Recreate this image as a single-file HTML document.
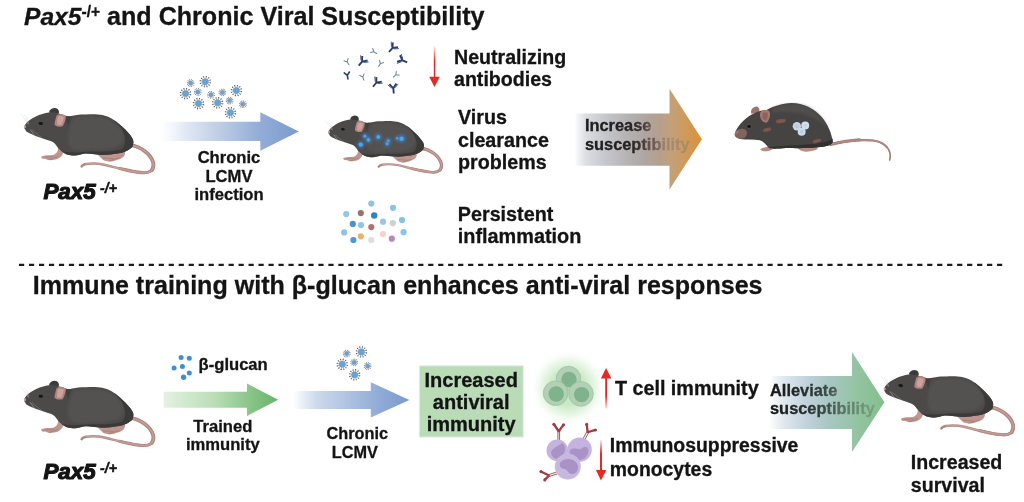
<!DOCTYPE html>
<html><head><meta charset="utf-8">
<style>
html,body{margin:0;padding:0;background:#fff;}
body{width:1024px;height:502px;overflow:hidden;font-family:"Liberation Sans",sans-serif;}
svg{display:block;will-change:transform;}
text{font-family:"Liberation Sans",sans-serif;font-weight:bold;fill:#141414;stroke:#141414;stroke-width:0.3px;}
text.ns{stroke:none}
.it{font-style:italic}
</style></head><body>
<svg width="1024" height="502" viewBox="0 0 1024 502">
<defs>
<filter id="blur6" x="-20%" y="-20%" width="140%" height="140%"><feGaussianBlur stdDeviation="7"/></filter><filter id="blur1" x="-50%" y="-50%" width="200%" height="200%"><feGaussianBlur stdDeviation="0.8"/></filter>
<filter id="blur2" x="-30%" y="-30%" width="160%" height="160%"><feGaussianBlur stdDeviation="2.2"/></filter>
<!--GRADS-->
<linearGradient id="gBlue" x1="0" x2="1" y1="0" y2="0"><stop offset="0" stop-color="#ffffff"/><stop offset="0.1" stop-color="#f0f4fa"/><stop offset="0.19" stop-color="#dfe7f3"/><stop offset="0.46" stop-color="#b9c9e3"/><stop offset="0.71" stop-color="#93add7"/><stop offset="1" stop-color="#7a9bce"/></linearGradient>
<linearGradient id="gBlue2" x1="0" x2="1" y1="0" y2="0"><stop offset="0" stop-color="#ffffff"/><stop offset="0.08" stop-color="#e9eef7"/><stop offset="0.2" stop-color="#cdd9ec"/><stop offset="0.5" stop-color="#abc0e0"/><stop offset="0.75" stop-color="#8faad6"/><stop offset="1" stop-color="#7a9bce"/></linearGradient>
<linearGradient id="gGreen" x1="0" x2="1" y1="0" y2="0"><stop offset="0" stop-color="#e3f2e0"/><stop offset="0.45" stop-color="#b9ddb6"/><stop offset="0.8" stop-color="#82c182"/><stop offset="1" stop-color="#69b56b"/></linearGradient>
<linearGradient id="gOrange" x1="0" x2="1" y1="0" y2="0"><stop offset="0" stop-color="#fdfdfe"/><stop offset="0.03" stop-color="#f0f1f4"/><stop offset="0.086" stop-color="#dcdee3"/><stop offset="0.25" stop-color="#c4c5cb"/><stop offset="0.415" stop-color="#b5b2b3"/><stop offset="0.547" stop-color="#aea6a3"/><stop offset="0.66" stop-color="#b5a08c"/><stop offset="0.76" stop-color="#c4a078"/><stop offset="0.88" stop-color="#cf9a57"/><stop offset="1" stop-color="#de9038"/></linearGradient>
<linearGradient id="gAllev" x1="0" x2="1" y1="0" y2="0"><stop offset="0" stop-color="#ffffff"/><stop offset="0.12" stop-color="#e2e9f0"/><stop offset="0.32" stop-color="#c2d2dc"/><stop offset="0.52" stop-color="#a9c6c4"/><stop offset="0.74" stop-color="#96c4a5"/><stop offset="1" stop-color="#82bf8b"/></linearGradient>
<linearGradient id="gTxtO" gradientUnits="userSpaceOnUse" x1="584" x2="692" y1="0" y2="0"><stop offset="0" stop-color="#1e1e1e"/><stop offset="0.42" stop-color="#262222"/><stop offset="0.53" stop-color="#3e3231"/><stop offset="0.6" stop-color="#625350"/><stop offset="0.67" stop-color="#735e57"/><stop offset="0.73" stop-color="#93806f"/><stop offset="0.8" stop-color="#a48b6f"/><stop offset="1" stop-color="#ad8c62"/></linearGradient>
<linearGradient id="gTxtG" gradientUnits="userSpaceOnUse" x1="770" x2="875" y1="0" y2="0"><stop offset="0" stop-color="#151515"/><stop offset="0.45" stop-color="#2f3a38"/><stop offset="0.75" stop-color="#5f7f6c"/><stop offset="1" stop-color="#7aa583"/></linearGradient>
<linearGradient id="gRedUp" x1="0" x2="0" y1="0" y2="1"><stop offset="0" stop-color="#e32b23"/><stop offset="0.6" stop-color="#e32b23"/><stop offset="1" stop-color="#e32b23" stop-opacity="0.15"/></linearGradient>
<linearGradient id="gRedDn" x1="0" x2="0" y1="0" y2="1"><stop offset="0" stop-color="#e32b23" stop-opacity="0.1"/><stop offset="0.45" stop-color="#e32b23"/><stop offset="1" stop-color="#e32b23"/></linearGradient>
<radialGradient id="gGlow"><stop offset="0" stop-color="#bfe5bd"/><stop offset="0.5" stop-color="#c9e9c6" stop-opacity="0.95"/><stop offset="0.75" stop-color="#d9f0d6" stop-opacity="0.6"/><stop offset="1" stop-color="#eaf7e8" stop-opacity="0"/></radialGradient>
<symbol id="mouse" viewBox="0 0 683 502" overflow="visible">
  <!-- tail -->
  <path d="M526,222 C566,228 606,256 616,293 C620,324 600,334 572,332 C520,328 470,312 419,300 C395,295 368,294 346,297 C336,299 330,303 328,307" fill="none" stroke="#b08780" stroke-width="10" stroke-linecap="round"/>
  <path d="M526,222 C566,228 606,256 616,293 C620,324 600,334 572,332 C540,330 510,322 480,315" fill="none" stroke="#b08780" stroke-width="12.5" stroke-linecap="round"/>
  <path d="M524,221 C566,228 606,256 616,293 C618,306 616,314 610,322" fill="none" stroke="#b08780" stroke-width="15" stroke-linecap="round"/>
  <path d="M526,222 C566,228 606,256 616,293 C620,324 600,334 572,332 C520,328 470,312 419,300 C395,295 368,294 346,297" fill="none" stroke="#c6a19a" stroke-width="5" stroke-linecap="round"/>
  <!-- rear foot -->
  <path d="M390,256 C398,266 404,272 410,276 C414,284 430,288 446,287 C458,286 466,282 472,280 C484,278 494,272 498,266 C502,260 504,254 502,248 L440,250 Z" fill="#c0958e"/>
  <path d="M412,274 C426,272 440,276 456,276 M436,286 C450,280 464,278 480,272" stroke="#9e746e" stroke-width="2.5" fill="none"/>
  <!-- front leg/foot -->
  <path d="M232,230 C236,246 226,256 214,261 C198,262 178,262 166,267 C164,274 170,278 182,276 C190,282 204,283 216,280 C226,280 236,276 244,268 C252,260 256,250 256,240 Z" fill="#c0958e"/>
  <path d="M176,270 C190,268 204,270 216,268 M196,280 C208,276 222,274 234,266" stroke="#9e746e" stroke-width="2.5" fill="none"/>
  <!-- back ear -->
  <path d="M197,90 C198,80 206,74 218,72 C230,72 236,78 237,88 C236,94 234,98 230,100 Z" fill="#3d3c3b"/>
  <!-- body -->
  <path d="M97,147 C102,134 112,124 124,117 C140,106 156,100 170,96 C180,93 188,91 196,90 C212,88 228,92 246,97 C254,100 262,103 270,105 C284,106 294,102 304,101 C320,98 336,98 349,98 C364,97 380,97 393,98 C406,99 416,101 425,104 C438,108 448,114 457,120 C470,128 480,137 489,146 C500,155 508,164 515,172 C523,180 529,189 533,197 C536,204 537,211 535,216 C535,221 534,226 531,229 C527,233 523,236 518,239 C513,243 508,246 502,248 C492,252 482,254 470,255 C452,258 436,260 419,261 C406,261 394,259 380,258 C368,257 354,255 342,255 C332,256 324,260 316,261 C308,263 300,264 291,263 C282,262 272,261 265,258 C258,254 251,250 246,245 C241,241 237,237 233,232 C230,228 227,224 224,220 C220,215 214,209 206,206 C196,202 184,198 172,194.5 C158,190 145,185 133,180.5 C123,176 114,172 108,168 C104,165 102,162 101,158 C98,155 96,151 97,147 Z" fill="#4c4a49"/>
  <!-- lighter mid body -->
  <path d="M300,112 C340,104 390,104 430,116 C462,128 484,150 494,176 C500,196 492,214 470,226 C440,238 400,240 360,240 C330,242 304,244 288,236 C276,226 272,206 274,186 C276,160 284,130 300,112 Z" fill="#565453" opacity="0.8" filter="url(#blur6)"/>
  <!-- darker rump -->
  <path d="M457,120 C470,128 480,137 489,146 C500,155 508,164 515,172 C523,180 529,189 533,197 C536,204 537,211 535,216 C535,221 534,226 531,229 C527,233 523,236 518,239 C508,246 492,252 470,255 C486,246 498,232 502,214 C506,190 496,160 476,140 C468,132 462,126 457,120 Z" fill="#3c3a39"/>
  <!-- darker belly -->
  <path d="M246,245 C262,250 290,252 316,250 C350,246 400,248 440,246 C470,244 500,236 520,226 C526,224 530,226 531,229 C527,233 523,236 518,239 C508,246 492,252 470,255 C452,258 436,260 419,261 C394,260 368,256 342,255 C324,258 308,264 291,263 C272,262 258,254 246,245 Z" fill="#3c3a39"/>
  <!-- neck shadow -->
  <path d="M262,104 C270,106 280,106 288,104 C282,116 278,130 276,146 C270,134 266,118 262,104 Z" fill="#3f3d3c" opacity="0.8"/>
  <!-- front ear -->
  <path d="M228,101 C234,97 240,96 246,96 C254,97 260,100 264,104 C265,112 263,120 260,127 C258,134 255,141 251,146 C244,148 236,148 228,146 C224,144 221,142 219,139 C219,131 221,124 223,117 C224,111 226,106 228,101 Z" fill="#b3857f"/>
  <path d="M234,106 C240,103 250,104 256,108 C256,118 252,130 246,140 C240,141 234,140 230,138 C228,128 230,116 234,106 Z" fill="#c9a39d"/>
  <!-- eye -->
  <ellipse cx="164" cy="134.5" rx="9" ry="6" fill="#171717" transform="rotate(8 164 134.5)"/>
  <!-- nose -->
  <ellipse cx="100" cy="148" rx="4.5" ry="6" fill="#c9a09a"/>
  <!-- whiskers -->
  <path d="M112,138 L86,96 M114,136 L98,100 M116,140 L108,108 M122,160 L152,200 M128,160 L172,196 M120,156 L140,186" stroke="#c4c4c4" stroke-width="1.4" fill="none" opacity="0.75"/>
</symbol>
<symbol id="sick" viewBox="0 0 904 502" overflow="visible">
  <!-- tail -->
  <path d="M556,322 C620,308 700,297 770,304 C830,314 866,350 852,402" fill="none" stroke="#a47c74" stroke-width="8" stroke-linecap="round"/>
  <path d="M556,322 C620,308 700,297 770,304 C800,308 824,320 840,340" fill="none" stroke="#a47c74" stroke-width="10.5" stroke-linecap="round"/>
  <path d="M554,324 C600,312 650,304 700,300" fill="none" stroke="#a47c74" stroke-width="15" stroke-linecap="round"/>
  <path d="M556,322 C620,308 700,297 770,304 C800,308 826,322 842,344" fill="none" stroke="#b8938b" stroke-width="4.5" stroke-linecap="round"/>
  <!-- feet -->
  <path d="M386,336 C396,352 412,358 430,360 C450,360 470,354 484,350 C490,346 492,340 490,332 Z" fill="#b88d85"/>
  <path d="M202,348 C208,358 226,360 244,356 C254,354 262,350 266,344 L262,330 C240,336 214,338 202,348 Z" fill="#b88d85"/>
  <!-- back ear -->
  <path d="M158,170 C150,152 164,134 184,133 C198,136 202,152 194,166 Z" fill="#a0746c"/>
  <!-- body -->
  <path d="M74,270 C80,248 96,226 116,206 C136,186 160,170 186,160 C204,154 220,152 234,150 C262,134 310,117 360,115 C420,117 470,140 510,184 C540,220 562,266 566,312 C560,328 530,334 490,338 C440,344 380,342 330,342 C300,344 264,348 246,342 C234,328 220,308 200,302 C170,298 130,302 102,296 C84,292 72,284 74,270 Z" fill="#454443"/>
  <path d="M262,142 C310,122 380,116 430,132 C480,152 520,196 540,240 C500,204 450,176 400,166 C350,158 300,160 262,164 Z" fill="#525150" opacity="0.8" filter="url(#blur6)"/>
  <path d="M246,338 C300,328 400,328 480,320 C520,316 548,306 566,294 L566,312 C560,328 530,334 490,338 C440,344 380,342 330,342 C300,344 264,348 246,342 Z" fill="#313130"/>
  <!-- snout -->
  <path d="M76,264 C88,246 112,240 128,250 C140,264 136,284 120,292 C100,296 82,292 74,278 Z" fill="#85645d" filter="url(#blur2)"/>
  <!-- brown patches -->
  <ellipse cx="306" cy="206" rx="25" ry="10" fill="#80594f" transform="rotate(-8 306 206)" filter="url(#blur2)"/>
  <ellipse cx="236" cy="250" rx="21" ry="9" fill="#80594f" transform="rotate(-12 236 250)" filter="url(#blur2)"/>
  <ellipse cx="486" cy="306" rx="21" ry="8" fill="#80594f" transform="rotate(-15 486 306)" filter="url(#blur2)"/>
  <!-- front ear -->
  <path d="M204,160 C216,146 240,146 250,160 C254,178 248,200 234,214 C218,214 206,202 202,186 C200,176 200,168 204,160 Z" fill="#a67970"/>
  <path d="M214,168 C222,160 236,160 240,170 C242,184 238,196 230,204 C220,202 214,194 212,186 Z" fill="#8e635b"/>
  <!-- eye -->
  <ellipse cx="146" cy="234" rx="13" ry="11" fill="#5a5554" opacity="0.8"/>
  <ellipse cx="146" cy="234" rx="9.5" ry="7.5" fill="#111"/>
  <!-- light lumps -->
  <circle cx="386" cy="232" r="21" fill="#c6d6e6"/>
  <circle cx="428" cy="228" r="20" fill="#d3e0ec"/>
  <circle cx="410" cy="260" r="20" fill="#cbdbe9"/>
  <circle cx="386" cy="232" r="10" fill="#b3c7dc" opacity="0.7"/>
  <circle cx="428" cy="228" r="9" fill="#bccfe1" opacity="0.7"/>
  <circle cx="410" cy="260" r="9" fill="#b3c7dc" opacity="0.7"/>
  <path d="M92,258 L66,254 M92,264 L68,272" stroke="#c8c8c8" stroke-width="1.6" fill="none"/>
</symbol>
<symbol id="virL" viewBox="-10 -10 20 20" overflow="visible">
  <path d="M2.74,0.56 L5.10,1.03 M2.10,1.85 L3.90,3.44 M0.89,2.65 L1.65,4.93 M-0.56,2.74 L-1.03,5.10 M-1.85,2.10 L-3.44,3.90 M-2.65,0.89 L-4.93,1.65 M-2.74,-0.56 L-5.10,-1.03 M-2.10,-1.85 L-3.90,-3.44 M-0.89,-2.65 L-1.65,-4.93 M0.56,-2.74 L1.03,-5.10 M1.85,-2.10 L3.44,-3.90 M2.65,-0.89 L4.93,-1.65" stroke="#6b6f78" stroke-width="0.6" fill="none"/>
  <g fill="#4c5058"><circle cx="5.10" cy="1.03" r="0.6"/><circle cx="3.90" cy="3.44" r="0.6"/><circle cx="1.65" cy="4.93" r="0.6"/><circle cx="-1.03" cy="5.10" r="0.6"/><circle cx="-3.44" cy="3.90" r="0.6"/><circle cx="-4.93" cy="1.65" r="0.6"/><circle cx="-5.10" cy="-1.03" r="0.6"/><circle cx="-3.90" cy="-3.44" r="0.6"/><circle cx="-1.65" cy="-4.93" r="0.6"/><circle cx="1.03" cy="-5.10" r="0.6"/><circle cx="3.44" cy="-3.90" r="0.6"/><circle cx="4.93" cy="-1.65" r="0.6"/></g>
  <circle r="3.25" fill="#8598ad"/>
  <circle r="2.8" fill="#62a4dc"/>
</symbol>
<symbol id="virS" viewBox="-10 -10 20 20" overflow="visible">
  <path d="M1.76,0.36 L3.43,0.70 M1.35,1.19 L2.62,2.32 M0.57,1.71 L1.11,3.32 M-0.36,1.76 L-0.70,3.43 M-1.19,1.35 L-2.32,2.62 M-1.71,0.57 L-3.32,1.11 M-1.76,-0.36 L-3.43,-0.70 M-1.35,-1.19 L-2.62,-2.32 M-0.57,-1.71 L-1.11,-3.32 M0.36,-1.76 L0.70,-3.43 M1.19,-1.35 L2.32,-2.62 M1.71,-0.57 L3.32,-1.11" stroke="#6b6f78" stroke-width="0.5" fill="none"/>
  <g fill="#4c5058"><circle cx="3.43" cy="0.70" r="0.45"/><circle cx="2.62" cy="2.32" r="0.45"/><circle cx="1.11" cy="3.32" r="0.45"/><circle cx="-0.70" cy="3.43" r="0.45"/><circle cx="-2.32" cy="2.62" r="0.45"/><circle cx="-3.32" cy="1.11" r="0.45"/><circle cx="-3.43" cy="-0.70" r="0.45"/><circle cx="-2.62" cy="-2.32" r="0.45"/><circle cx="-1.11" cy="-3.32" r="0.45"/><circle cx="0.70" cy="-3.43" r="0.45"/><circle cx="2.32" cy="-2.62" r="0.45"/><circle cx="3.32" cy="-1.11" r="0.45"/></g>
  <circle r="2.25" fill="#8598ad"/>
  <circle r="1.8" fill="#62a4dc"/>
</symbol>
<symbol id="abL" viewBox="-10 -10 20 20" overflow="visible">
  <path d="M0,5.4 L0,0.2 M0,0.2 L-3.5,-4.2 M0,0.2 L3.5,-4.2" stroke="#2b3f6c" stroke-width="1.9" stroke-linecap="butt" fill="none"/>
  <path d="M-1.9,-0.4 L-4.9,-3.4 M1.9,-0.4 L4.9,-3.4" stroke="#3a5486" stroke-width="0.9" stroke-linecap="round" fill="none"/>
</symbol>
<symbol id="abS" viewBox="-10 -10 20 20" overflow="visible">
  <path d="M0,3.2 L0,0 M0,0 L-2.3,-2.6 M0,0 L2.3,-2.6" stroke="#6f8aa6" stroke-width="1.1" stroke-linecap="round" fill="none"/>
</symbol>
<symbol id="abM" viewBox="-10 -10 20 20" overflow="visible">
  <path d="M0,3.6 L0,0 M0,0 L-2.6,-3 M0,0 L2.6,-3" stroke="#2b3f6c" stroke-width="1.6" stroke-linecap="round" fill="none"/>
</symbol>

</defs>
<!-- ===== TOP TITLE ===== -->
<text x="24" y="25" font-size="25.1"><tspan class="it" font-size="24.6">Pax5</tspan><tspan font-size="15.6" dy="-8.5">-/+</tspan><tspan dy="8.5"> and Chronic Viral Susceptibility</tspan></text>

<!-- ===== TOP ROW ===== -->
<use href="#mouse" x="0" y="90" width="170" height="125"/>
<text x="43.4" y="199.3" font-size="22.4" class="it" style="stroke-width:1.15px;stroke-linejoin:round">Pax5<tspan font-size="14" dy="-6.3" dx="0.5" style="stroke-width:0.5px"> -/+</tspan></text>

<!-- blue arrow top -->
<path d="M161,121.7 L260.3,121.7 L260.3,112.3 L298.8,131.4 L260.3,150.8 L260.3,140.9 L161,140.9 Z" fill="url(#gBlue)"/>
<g id="virTop">
<use href="#virS" x="180.6" y="73.1" width="20" height="20"/>
<use href="#virL" x="195.3" y="71.7" width="20" height="20"/>
<use href="#virL" x="175.6" y="83.6" width="20" height="20"/>
<use href="#virS" x="187.8" y="81.9" width="20" height="20"/>
<use href="#virS" x="201" y="84.8" width="20" height="20"/>
<use href="#virS" x="212.4" y="82.4" width="20" height="20"/>
<use href="#virL" x="226.4" y="80.6" width="20" height="20"/>
<use href="#virL" x="188.5" y="93.6" width="20" height="20"/>
<use href="#virL" x="207.7" y="92.8" width="20" height="20"/>
<use href="#virS" x="219.6" y="90.6" width="20" height="20"/>
<use href="#virS" x="232.8" y="94.3" width="20" height="20"/>
<use href="#virL" x="220.4" y="102.8" width="20" height="20"/>
</g>
<text x="229" y="163.1" font-size="16.6" text-anchor="middle">Chronic</text>
<text x="229" y="181.6" font-size="16.6" text-anchor="middle">LCMV</text>
<text x="229" y="200.1" font-size="16.6" text-anchor="middle">infection</text>

<!-- antibodies -->
<g id="abs">
<use href="#abS" x="337.3" y="51.9" width="20" height="20" transform="rotate(-30 347.3 61.9)"/>
<use href="#abL" x="352.2" y="51.5" width="20" height="20" transform="rotate(40 362.2 61.5)"/>
<use href="#abS" x="363.8" y="41.8" width="20" height="20" transform="rotate(-60 373.8 51.8)"/>
<use href="#abL" x="382.6" y="37.9" width="20" height="20" transform="rotate(42 392.6 47.9)"/>
<use href="#abL" x="392.3" y="50.2" width="20" height="20" transform="rotate(-65 402.3 60.2)"/>
<use href="#abS" x="370.3" y="53.7" width="20" height="20" transform="rotate(30 380.3 63.7)"/>
<use href="#abM" x="337.3" y="65.4" width="20" height="20" transform="rotate(-10 347.3 75.4)"/>
<use href="#abS" x="352.8" y="67.1" width="20" height="20" transform="rotate(-20 362.8 77.1)"/>
<use href="#abL" x="366.4" y="72.6" width="20" height="20" transform="rotate(40 376.4 82.6)"/>
<use href="#abS" x="385.8" y="64.9" width="20" height="20" transform="rotate(50 395.8 74.9)"/>
<use href="#abL" x="383.3" y="78.1" width="20" height="20" transform="rotate(-5 393.3 88.1)"/>
</g>
<!-- red down arrow -->
<rect x="433.8" y="46" width="1.5" height="32" fill="url(#gRedDn)"/>
<path d="M429.2,76.8 L439.8,76.8 L434.5,87 Z" fill="#e32b23"/>

<text x="454" y="63.9" font-size="19.6">Neutralizing</text>
<text x="454" y="86.1" font-size="19.6">antibodies</text>
<text x="458" y="124.3" font-size="19.7">Virus</text>
<text x="458" y="146.8" font-size="19.7">clearance</text>
<text x="458" y="168.9" font-size="19.7">problems</text>
<text x="457.8" y="220.8" font-size="19.75">Persistent</text>
<text x="457.8" y="242.7" font-size="19.85">inflammation</text>

<!-- infected mouse -->
<use href="#mouse" x="307.2" y="99.9" width="148.75" height="109.4"/>
<g id="spots" fill="#4aa3ee">
<circle cx="364.9" cy="136.2" r="3.4" fill="#3e86cf" opacity="0.5" filter="url(#blur1)"/><circle cx="364.9" cy="136.2" r="1.6"/>
<circle cx="368.4" cy="139.9" r="3.6" fill="#3e86cf" opacity="0.5" filter="url(#blur1)"/><circle cx="368.4" cy="139.9" r="1.8"/>
<circle cx="360.8" cy="144.6" r="4.2" fill="#3e86cf" opacity="0.5" filter="url(#blur1)"/><circle cx="360.8" cy="144.6" r="2.2"/>
<circle cx="378.3" cy="137" r="3.8" fill="#3e86cf" opacity="0.5" filter="url(#blur1)"/><circle cx="378.3" cy="137" r="1.9"/>
<circle cx="388.3" cy="140.7" r="3.2" fill="#3e86cf" opacity="0.5" filter="url(#blur1)"/><circle cx="388.3" cy="140.7" r="1.5"/>
<circle cx="387.1" cy="143.8" r="3.2" fill="#3e86cf" opacity="0.5" filter="url(#blur1)"/><circle cx="387.1" cy="143.8" r="1.5"/>
<circle cx="397.1" cy="138.3" r="2.6" fill="#3e86cf" opacity="0.5" filter="url(#blur1)"/><circle cx="397.1" cy="138.3" r="1.2"/>
<circle cx="401.6" cy="138.7" r="4.4" fill="#3e86cf" opacity="0.5" filter="url(#blur1)"/><circle cx="401.6" cy="138.7" r="2.3"/>
</g>

<!-- inflammation dots -->
<g id="dots">
<circle cx="371.3" cy="203.6" r="3.1" fill="#8ec3e6"/>
<circle cx="393" cy="207.8" r="3.1" fill="#8ec3e6"/>
<circle cx="346.2" cy="214.1" r="3.1" fill="#93c6e8"/>
<circle cx="360.8" cy="213.1" r="3.1" fill="#9a716b"/>
<circle cx="374.2" cy="215.5" r="3.2" fill="#2f84c6"/>
<circle cx="402" cy="220" r="3.1" fill="#86c0e6"/>
<circle cx="383" cy="221.7" r="3.1" fill="#9bc5ea"/>
<circle cx="392.8" cy="223.1" r="3.1" fill="#cfd0d2"/>
<circle cx="352.8" cy="223.9" r="3.1" fill="#4e8fd2"/>
<circle cx="361" cy="225.1" r="3.1" fill="#90c4e8"/>
<circle cx="371.3" cy="227.1" r="3.1" fill="#b3716c"/>
<circle cx="344.2" cy="232.4" r="3.1" fill="#8ec3e6"/>
<circle cx="403.6" cy="232.2" r="3.1" fill="#8ec3e6"/>
<circle cx="383" cy="234.1" r="3.1" fill="#f7d3c7"/>
<circle cx="360.8" cy="236.3" r="3.1" fill="#e8b36c"/>
<circle cx="391.8" cy="238.7" r="3.1" fill="#b58ab8"/>
<circle cx="353.4" cy="240" r="3.1" fill="#4e98da"/>
<circle cx="371.3" cy="240" r="3.1" fill="#e2dbe6"/>
</g>

<!-- orange arrow -->
<path d="M575,113.5 L669.5,113.5 L669.5,88.7 L701.9,139.2 L669.5,189.5 L669.5,165.8 L575,165.8 Z" fill="url(#gOrange)"/>
<text x="584.9" y="131" font-size="16.4" style="fill:url(#gTxtO);stroke:url(#gTxtO);stroke-width:0.3px">Increase</text>
<text x="584.9" y="149.6" font-size="16.4" style="fill:url(#gTxtO);stroke:url(#gTxtO);stroke-width:0.3px">susceptibility</text>

<!-- sick mouse -->
<use href="#sick" x="720" y="80" width="180" height="100"/>

<!-- dashed divider -->
<line x1="19" y1="264.8" x2="1002.2" y2="264.8" stroke="#1c1c1c" stroke-width="2.3" stroke-dasharray="5.2 4.78"/>

<!-- ===== BOTTOM TITLE ===== -->
<text x="32.8" y="293.8" font-size="25.07">Immune training with β-glucan enhances anti-viral responses</text>

<use href="#mouse" x="0" y="362.8" width="170" height="125"/>
<text x="43.4" y="479.3" font-size="22.4" class="it" style="stroke-width:1.15px;stroke-linejoin:round">Pax5<tspan font-size="14" dy="-6.3" dx="0.5" style="stroke-width:0.5px"> -/+</tspan></text>

<!-- beta glucan dots -->
<g fill="#3f8fd0">
<circle cx="181.1" cy="357.4" r="2.5"/><circle cx="189.3" cy="358.2" r="2.5"/><circle cx="174.1" cy="367.9" r="2.5"/><circle cx="182.4" cy="366.6" r="2.5"/><circle cx="189.3" cy="373.1" r="2.5"/><circle cx="183.6" cy="377.3" r="2.7"/>
</g>
<text x="198.6" y="369.6" font-size="16.6">β-glucan</text>
<!-- green arrow -->
<path d="M163.7,391.8 L247,391.8 L247,383.6 L278.2,399.7 L247,415.9 L247,407.7 L163.7,407.7 Z" fill="url(#gGreen)"/>
<text x="222.8" y="432" font-size="16.6" text-anchor="middle">Trained</text>
<text x="222.8" y="450.1" font-size="16.6" text-anchor="middle">immunity</text>

<!-- blue arrow bottom -->
<path d="M293.7,391 L370.8,391 L370.8,382.3 L409.4,400 L370.8,417.6 L370.8,409.1 L293.7,409.1 Z" fill="url(#gBlue2)"/>
<g id="virBot">
<use href="#virS" x="336.7" y="343.6" width="20" height="20"/>
<use href="#virL" x="351.4" y="341.9" width="20" height="20"/>
<use href="#virL" x="332.2" y="354.3" width="20" height="20"/>
<use href="#virS" x="344.2" y="352.4" width="20" height="20"/>
<use href="#virS" x="357.6" y="356.1" width="20" height="20"/>
<use href="#virL" x="344.7" y="364.8" width="20" height="20"/>
</g>
<text x="357.3" y="439.1" font-size="16.3" text-anchor="middle">Chronic</text>
<text x="354.8" y="457.6" font-size="16.3" text-anchor="middle">LCMV</text>

<!-- green box -->
<rect x="419.3" y="365.8" width="104" height="71.3" fill="#b9dcb7" stroke="#e6ecf3" stroke-width="1"/>
<text x="471.2" y="386.7" font-size="20" text-anchor="middle">Increased</text>
<text x="471.2" y="409.2" font-size="20" text-anchor="middle">antiviral</text>
<text x="471.2" y="430.8" font-size="20" text-anchor="middle">immunity</text>

<!-- T cells -->
<circle cx="568.5" cy="388" r="36" fill="url(#gGlow)"/>
<g>
<circle cx="568.5" cy="378.6" r="12.3" fill="#b2d1b4" stroke="#9dc3a1" stroke-width="0.8"/><circle cx="569" cy="379.5" r="7.7" fill="#7fb38b"/>
<circle cx="555.6" cy="393.2" r="12.3" fill="#b2d1b4" stroke="#9dc3a1" stroke-width="0.8"/><circle cx="556.2" cy="394" r="7.7" fill="#7fb38b"/>
<circle cx="581" cy="393.9" r="12.3" fill="#b2d1b4" stroke="#9dc3a1" stroke-width="0.8"/><circle cx="581.6" cy="394.6" r="7.7" fill="#7fb38b"/>
</g>
<!-- red up arrow -->
<rect x="605.2" y="377" width="1.9" height="31.5" fill="url(#gRedUp)"/>
<path d="M600.8,378.6 L611.4,378.6 L606.1,367.9 Z" fill="#e32b23"/>
<text x="614.9" y="394.7" font-size="19.75">T cell immunity</text>

<!-- monocytes -->
<g id="mono">
 <g stroke="#8a4a44" stroke-width="0.9" fill="none">
  <path d="M557.9,440 L557.9,431 M559.6,440 L559.6,431"/>
  <path d="M582.6,439.5 L587,431.4 M584.6,440 L589,432"/>
  <path d="M556.5,472 L548.4,474.8 M557,474 L548.8,476.6"/>
 </g>
 <g stroke="#a23c3e" stroke-width="2.3" stroke-linecap="round" fill="none">
  <path d="M558.5,431 L554.4,425 M559,431 L563,425.4"/>
  <path d="M587.6,431.8 L586.8,425.2 M588.4,432 L594.6,430.2"/>
  <path d="M548.6,475.2 L541.8,472 M548.6,476 L545.2,479.4"/>
 </g>
 <g fill="#a23c3e">
  <circle cx="553.9" cy="424.3" r="1.6"/><circle cx="563.5" cy="424.8" r="1.6"/>
  <circle cx="586.7" cy="424.4" r="1.6"/><circle cx="595.4" cy="430" r="1.6"/>
  <circle cx="541" cy="471.6" r="1.6"/><circle cx="544.8" cy="479.9" r="1.6"/>
 </g>
 <circle cx="557.3" cy="450.4" r="10.8" fill="#c3b3de"/>
 <path d="M551,452 C553,447 560,446 562,443 C566,445 566,452 562,456 C558,460 552,460 551,452 Z" fill="#a892c6"/>
 <circle cx="579.6" cy="449.7" r="12.2" fill="#c3b3de"/>
 <path d="M570,451 C572,446 578,450 581,449 C584,446 590,446 588,453 C586,460 578,462 574,458 C571,456 569,454 570,451 Z" fill="#a892c6"/>
 <circle cx="567.8" cy="466.5" r="13" fill="#c7b8e0"/>
 <path d="M560,463 C563,458 572,458 576,462 C580,467 578,474 572,474 C568,474 568,470 565,469 C561,469 559,466 560,463 Z" fill="#a892c6"/>
</g>
<!-- red down arrow (bottom) -->
<rect x="600" y="440" width="2" height="31" fill="url(#gRedDn)"/>
<path d="M595.9,470 L606.3,470 L601,480.6 Z" fill="#e32b23"/>
<text x="609.8" y="452.1" font-size="19.4">Immunosuppressive</text>
<text x="609.8" y="476.1" font-size="19.4">monocytes</text>

<!-- alleviate arrow -->
<path d="M768.6,376.1 L852,376.1 L852,352 L884.4,402.2 L852,452 L852,429.1 L768.6,429.1 Z" fill="url(#gAllev)"/>
<text x="770" y="395.9" font-size="16.4" style="fill:url(#gTxtG);stroke:url(#gTxtG);stroke-width:0.3px">Alleviate</text>
<text x="770" y="414.3" font-size="16.4" style="fill:url(#gTxtG);stroke:url(#gTxtG);stroke-width:0.3px">susceptibility</text>

<use href="#mouse" x="859.8" y="352.1" width="170" height="125"/>
<text x="910.8" y="469.4" font-size="19.6">Increased</text>
<text x="910.8" y="491.7" font-size="19.6">survival</text>

</svg>
</body></html>
